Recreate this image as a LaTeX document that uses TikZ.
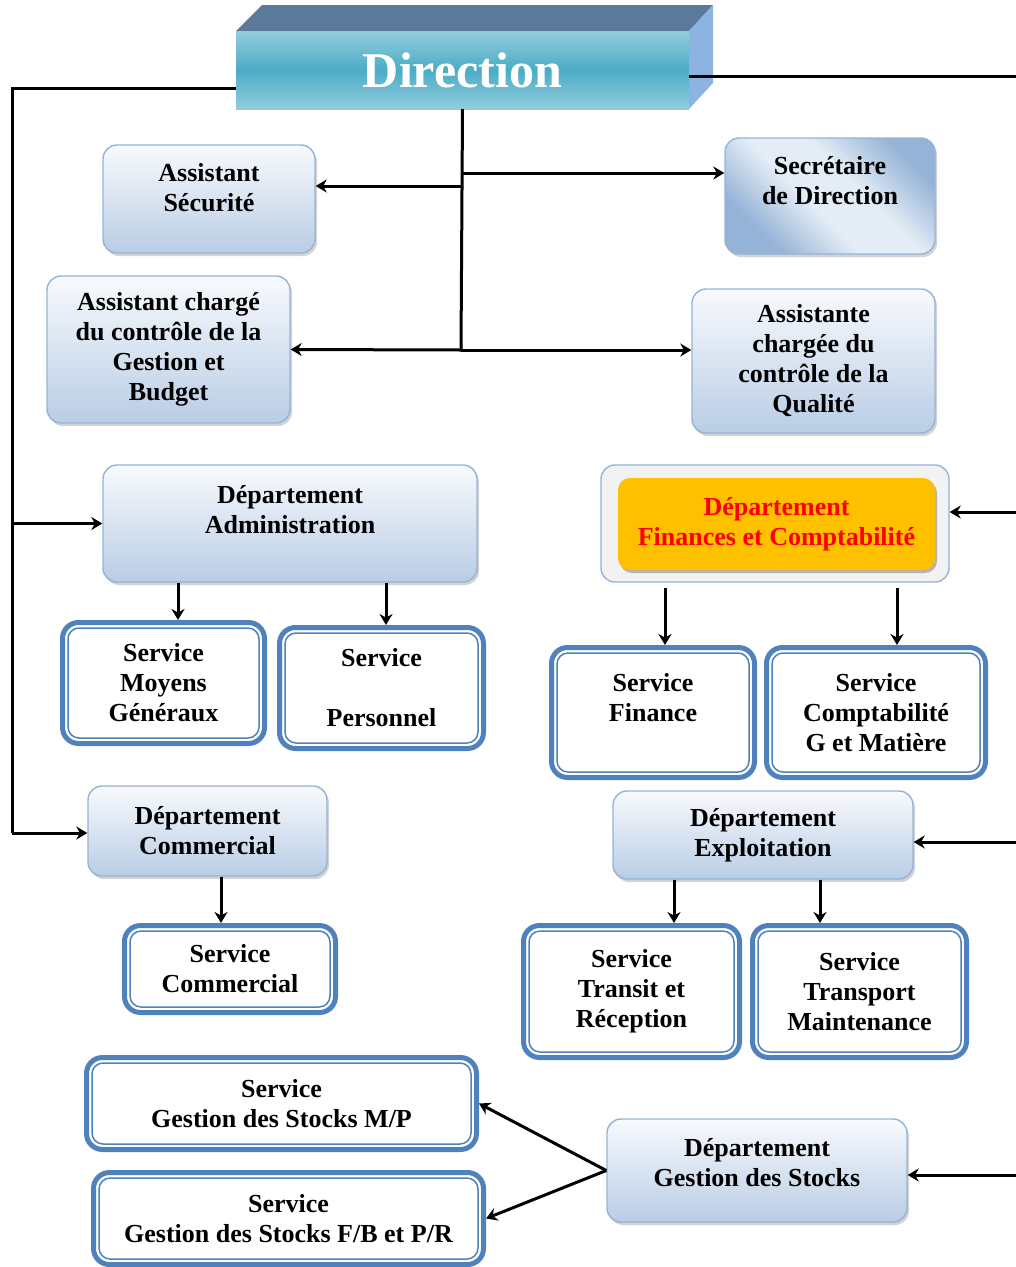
\documentclass[tikz,border=0pt]{standalone}
\usepackage{fontspec}
\setmainfont{Liberation Serif}
\usetikzlibrary{arrows.meta,shadows}

\definecolor{boxtop}{HTML}{F8FAFD}
\definecolor{boxbot}{HTML}{B9CDE5}
\definecolor{boxline}{HTML}{95B3D7}
\definecolor{svcblue}{HTML}{4F81BD}
\definecolor{dirlight}{HTML}{93CDDD}
\definecolor{dirmid}{HTML}{4BACC6}
\definecolor{dirtop}{HTML}{5B7A9A}
\definecolor{dirside}{HTML}{8DB3E2}
\definecolor{finorange}{HTML}{FFC000}
\definecolor{secdark}{HTML}{95B3D7}
\definecolor{seclight}{HTML}{E4ECF5}

\pgfdeclarehorizontalshading{secshade}{100bp}{color(0bp)=(secdark); color(27bp)=(secdark); color(44bp)=(seclight); color(58bp)=(seclight); color(75bp)=(secdark); color(100bp)=(secdark)}

\begin{document}
\begin{tikzpicture}[
    x=1pt,y=-1pt,
    font=\fontsize{26}{30}\selectfont\bfseries,
    base/.style={rectangle,align=center,inner sep=2pt},
    gradbox/.style={base,rounded corners=14pt,draw=boxline,line width=1.4pt,
      top color=boxtop,bottom color=boxbot,
      drop shadow={shadow xshift=2pt,shadow yshift=-3pt,opacity=.35}},
    svcbox/.style={base,rounded corners=16pt,fill=white,draw=svcblue,line width=5pt,outer sep=2.5pt},
    svcinner/.style={draw=svcblue,line width=1.5pt,rounded corners=11pt},
    conn/.style={draw=black,line width=3pt},
    arrconn/.style={conn,-{Stealth[length=11pt,width=13pt]}}
  ]

  \useasboundingbox (0,0) rectangle (1016,1267);

  % Direction
  \fill[dirtop] (236,31) -- (262,5) -- (713,5) -- (689,31) -- cycle;
  \fill[dirside] (689,31) -- (713,5) -- (713,83) -- (689,109) -- cycle;
  \node(dir) [base,minimum width=453,minimum height=78,top color=dirlight,bottom color=dirlight,
    middle color=dirmid,text=white,font=\fontsize{50}{56}\selectfont\bfseries] at (462.5,70) {Direction};

  % assistants
  \node(asec) [gradbox,minimum width=212,minimum height=108,text depth=23pt] at (209,199) {Assistant\\Sécurité};
  \node(secr) [gradbox,minimum width=210,minimum height=116,text depth=32pt,shading=secshade,shading angle=45] at (830,196) {Secrétaire\\de Direction};
  \node(acgb) [gradbox,minimum width=243,minimum height=147] at (168.5,349.5) {Assistant chargé\\du contrôle de la\\Gestion et\\Budget};
  \node(aqua) [gradbox,minimum width=243,minimum height=144] at (813.5,361) {Assistante\\chargée du\\contrôle de la\\Qualité};

  % departement administration
  \node(dadm) [gradbox,minimum width=374,minimum height=117,text depth=29pt] at (290,523.5) {Département\\Administration};
  \node(smg) [svcbox,minimum width=202,minimum height=121] at (163.5,683) {Service\\Moyens\\Généraux};
  \node(sper) [svcbox,minimum width=204,minimum height=121] at (381.5,688) {Service\\[30pt]Personnel};

  % departement finances
  \node(dfin) [base,rounded corners=14pt,draw=boxline,line width=1.4pt,fill=black!5,
    minimum width=348,minimum height=117] at (775,523.5) {};
  \node(dfinin) [base,rounded corners=12pt,fill=finorange,text=red,
    drop shadow={shadow xshift=2pt,shadow yshift=-3pt,fill=black!45,opacity=.6},
    minimum width=317,minimum height=92] at (776.5,524) {Département\\Finances et Comptabilité};
  \node(sfin) [svcbox,minimum width=203,minimum height=130] at (653,712.5) {Service\\Finance\\\mbox{}};
  \node(scpt) [svcbox,minimum width=219,minimum height=130] at (876,712.5) {Service\\Comptabilité\\G et Matière};

  % departement commercial
  \node(dcom) [gradbox,minimum width=239,minimum height=90] at (207.5,831) {Département\\Commercial};
  \node(scom) [svcbox,minimum width=211,minimum height=87] at (230,969) {Service\\Commercial};

  % departement exploitation
  \node(dexp) [gradbox,minimum width=300,minimum height=88] at (763,835) {Département\\Exploitation};
  \node(stra) [svcbox,minimum width=216,minimum height=132] at (631.5,991.5) {Service\\Transit et\\Réception};
  \node(stsp) [svcbox,minimum width=214,minimum height=132] at (859.5,991.5) {Service\\Transport\\Maintenance};

  % departement gestion des stocks
  \node(smp) [svcbox,minimum width=390,minimum height=92] at (281.5,1103.5) {Service\\Gestion des Stocks M/P};
  \node(sfb) [svcbox,minimum width=390,minimum height=92] at (288.5,1218.5) {Service\\Gestion des Stocks F/B et P/R};
  \node(dgs) [gradbox,minimum width=300,minimum height=103,text depth=17pt] at (757,1170.5) {Département\\Gestion des Stocks};

  % inner line of the service boxes
  \foreach \n in {smg,sper,sfin,scpt,scom,stra,stsp,smp,sfb}
    \draw[svcinner] ([shift={(8pt,8pt)}]\n.south west) rectangle ([shift={(-8pt,-8pt)}]\n.north east);

  % connectors from Direction
  \coordinate(j1) at (462,173);
  \coordinate(j2) at (462,186);
  \coordinate(j3) at (461,350);
  \draw[conn] (dir.south) -- (j3);
  \draw[arrconn] (j1) -- (j1 -| secr.west);
  \draw[arrconn] (j2) -- (j2 -| asec.east);
  \draw[arrconn] (j3) -- (acgb.east);
  \draw[arrconn] (j3) -- (j3 -| aqua.west);

  \coordinate(ltop) at (12,88);
  \coordinate(lbot) at (12,833);
  \draw[conn] (ltop -| dir.west) -- (ltop) -- (lbot);
  \draw[arrconn] (ltop |- dadm.west) -- (dadm.west);
  \draw[arrconn] (lbot) -- (lbot -| dcom.west);

  \coordinate(rtop) at (1016,76);
  \coordinate(rfin) at (1016,512);
  \coordinate(rexp) at (1016,842);
  \coordinate(rgs) at (1016,1175);
  \draw[conn] (dir.east |- rtop) -- (rtop);
  \draw[arrconn] (rfin) -- (rfin -| dfin.east);
  \draw[arrconn] (rexp) -- (rexp -| dexp.east);
  \draw[arrconn] (rgs) -- (rgs -| dgs.east);

  % connectors to services
  \coordinate(ka) at (178,0);
  \coordinate(kb) at (386,0);
  \coordinate(kc) at (665,588);
  \coordinate(kd) at (897,588);
  \coordinate(ke) at (221,0);
  \coordinate(kf) at (674,0);
  \coordinate(kg) at (820,0);
  \draw[arrconn] (dadm.south -| ka) -- (smg.north -| ka);
  \draw[arrconn] (dadm.south -| kb) -- (sper.north -| kb);
  \draw[arrconn] (kc) -- (sfin.north -| kc);
  \draw[arrconn] (kd) -- (scpt.north -| kd);
  \draw[arrconn] (dcom.south -| ke) -- (scom.north -| ke);
  \draw[arrconn] (dexp.south -| kf) -- (stra.north -| kf);
  \draw[arrconn] (dexp.south -| kg) -- (stsp.north -| kg);
  \draw[arrconn] (dgs.west) -- (smp.east);
  \draw[arrconn] (dgs.west) -- (sfb.east);

\end{tikzpicture}
\end{document}
